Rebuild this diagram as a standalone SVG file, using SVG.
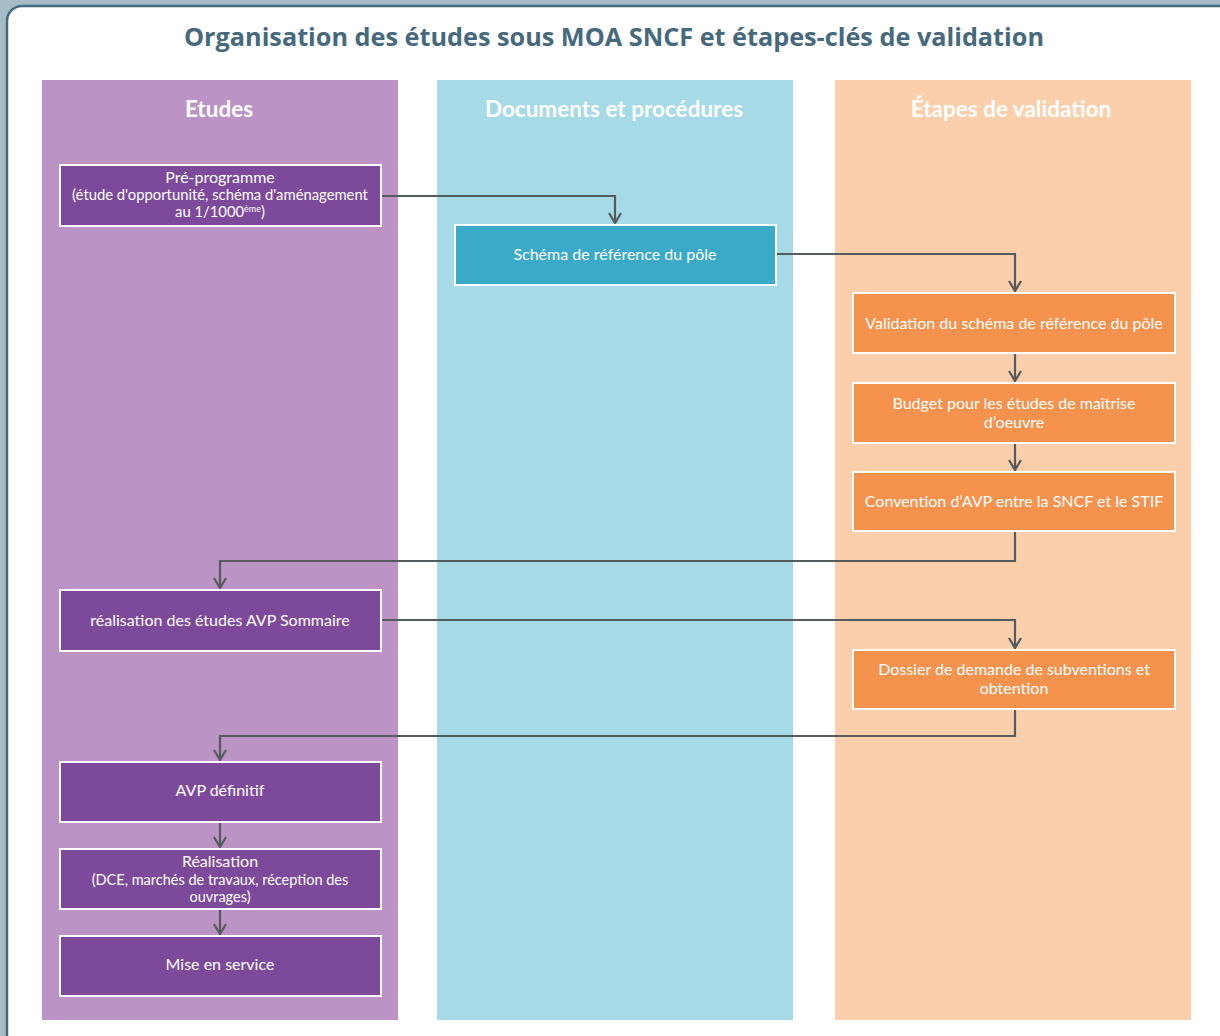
<svg xmlns="http://www.w3.org/2000/svg" width="1220" height="1036" viewBox="0 0 1220 1036">
<defs>
<style>
.title{font-family:"Open Sans","Liberation Sans",sans-serif;font-weight:bold;font-size:25px;fill:#46697e;text-anchor:middle}
.hdr{font-family:Lato,"Liberation Sans",sans-serif;font-weight:bold;font-size:22.5px;fill:#ffffff;text-anchor:middle}
.t{font-family:Lato,"Liberation Sans",sans-serif;font-size:16px;fill:#ffffff;text-anchor:middle}
.s{font-size:14.5px}
.xs{font-size:14.8px}
.sup{font-size:9px}
.box{stroke:#ffffff;stroke-width:2}
.p{fill:#7d4a9b}
.b{fill:#3aaac8}
.o{fill:#f5924d}
.c{fill:none;stroke:#555a5c;stroke-width:2.2;marker-end:url(#ah)}
</style>
<marker id="ah" viewBox="0 0 14 14" refX="12" refY="7" markerWidth="14" markerHeight="14" markerUnits="userSpaceOnUse" orient="auto">
<path d="M2,1 L12,7 L2,13" fill="none" stroke="#555a5c" stroke-width="2.2"/>
</marker>
</defs>
<rect x="0" y="0" width="1220" height="1036" fill="#a6bcc8"/>
<rect x="7" y="6" width="1228" height="1045" rx="15" fill="#ffffff" stroke="#46697e" stroke-width="2.5"/>
<text class="title" x="614" y="46" textLength="860" lengthAdjust="spacingAndGlyphs">Organisation des études sous MOA SNCF et étapes-clés de validation</text>

<g id="lanes">
<rect x="42" y="80" width="356" height="940" fill="#bb93c4"/>
<rect x="437" y="80" width="356" height="940" fill="#a6dae6"/>
<rect x="835" y="80" width="356" height="940" fill="#fbcfab"/>
<text class="hdr" x="219" y="117">Etudes</text>
<text class="hdr" x="614" y="117">Documents et procédures</text>
<text class="hdr" x="1011" y="117">Étapes de validation</text>
</g>

<g id="connectors">
<path class="c" d="M381,196 H615 V223"/>
<path class="c" d="M776,254 H1015 V291"/>
<path class="c" d="M1015,353 V381"/>
<path class="c" d="M1015,443 V470"/>
<path class="c" d="M1015,531 V561 H220 V588"/>
<path class="c" d="M381,620 H1015 V648"/>
<path class="c" d="M1015,709 V736 H220 V760"/>
<path class="c" d="M220,822 V847"/>
<path class="c" d="M220,909 V934"/>
</g>

<g id="n1"><rect class="box p" x="60" y="165" width="321" height="61"/>
<text class="t" x="220" y="183">Pré-programme</text>
<text class="t xs" x="220" y="200">(étude d'opportunité, schéma d'aménagement</text>
<text class="t xs" x="220" y="217">au 1/1000<tspan class="sup" dy="-5">ème</tspan><tspan dy="5">)</tspan></text></g>

<g id="n2"><rect class="box b" x="455" y="225" width="321" height="60"/>
<text class="t" x="615" y="260">Schéma de référence du pôle</text></g>

<g id="n3"><rect class="box o" x="853" y="293" width="322" height="60"/>
<text class="t" x="1014" y="329">Validation du schéma de référence du pôle</text></g>

<g id="n4"><rect class="box o" x="853" y="383" width="322" height="60"/>
<text class="t" x="1014" y="409">Budget pour les études de maîtrise</text>
<text class="t" x="1014" y="428">d’oeuvre</text></g>

<g id="n5"><rect class="box o" x="853" y="472" width="322" height="59"/>
<text class="t" x="1014" y="507">Convention d’AVP entre la SNCF et le STIF</text></g>

<g id="n6"><rect class="box p" x="60" y="590" width="321" height="61"/>
<text class="t" x="220" y="626">réalisation des études AVP Sommaire</text></g>

<g id="n7"><rect class="box o" x="853" y="650" width="322" height="59"/>
<text class="t" x="1014" y="675">Dossier de demande de subventions et</text>
<text class="t" x="1014" y="694">obtention</text></g>

<g id="n8"><rect class="box p" x="60" y="762" width="321" height="60"/>
<text class="t" x="220" y="796">AVP définitif</text></g>

<g id="n9"><rect class="box p" x="60" y="849" width="321" height="60"/>
<text class="t" x="220" y="867">Réalisation</text>
<text class="t s" x="220" y="885">(DCE, marchés de travaux, réception des</text>
<text class="t s" x="220" y="902">ouvrages)</text></g>

<g id="n10"><rect class="box p" x="60" y="936" width="321" height="60"/>
<text class="t" x="220" y="970">Mise en service</text></g>
</svg>
